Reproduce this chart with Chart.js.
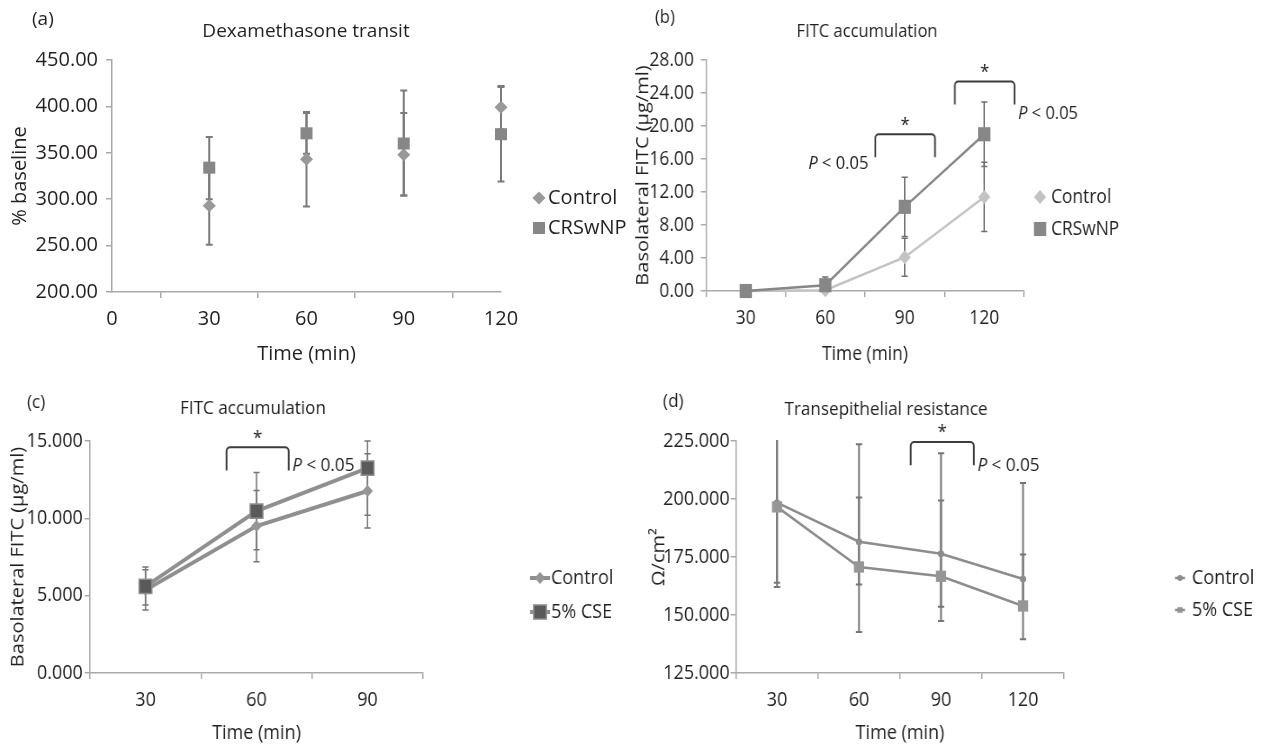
<!DOCTYPE html>
<html>
<head>
<meta charset="utf-8">
<script src="https://cdn.jsdelivr.net/npm/chart.js@4.4.0/dist/chart.umd.min.js"></script>
<style>
  html, body { margin: 0; padding: 0; background: #fff; }
  #page { position: relative; width: 1269px; height: 749px; overflow: hidden; }
  canvas { position: absolute; transform-origin: 0 0; }
</style>
</head>
<body>
<div id="page">
  <canvas id="panelA"></canvas>
  <canvas id="panelB"></canvas>
  <canvas id="panelC"></canvas>
  <canvas id="panelD"></canvas>
</div>
<script>
// (a) Dexamethasone transit
const timesA = [30, 60, 90, 120];
const ctrlA = [293, 343, 348, 399];
const ctrlLoA = [251, 292, 304, 375];
const ctrlHiA = [335, 394, 393, 422];
const crsA = [334, 371, 360, 370];
const crsLoA = [300, 349, 304, 319];
const crsHiA = [367, 393, 417, 421];
const ticksA = [200, 450, 50];

// (b) FITC accumulation, Control vs CRSwNP
const timesB = ["30", "60", "90", "120"];
const ctrlB = [0, 0.1, 4.1, 11.4];
const ctrlLoB = [0, 0, 1.8, 7.2];
const ctrlHiB = [0, 0.2, 6.4, 15.6];
const crsB = [0, 0.7, 10.2, 19.0];
const crsLoB = [0, -0.3, 6.6, 15.1];
const crsHiB = [0, 1.7, 13.8, 22.9];
const ticksB = [0, 28, 4];

// (c) FITC accumulation, Control vs 5% CSE
const timesC = ["30", "60", "90"];
const ctrlC = [5.37, 9.5, 11.77];
const ctrlLoC = [4.07, 7.2, 9.37];
const ctrlHiC = [6.67, 11.8, 14.17];
const cseC = [5.6, 10.47, 13.25];
const cseLoC = [4.4, 7.97, 10.2];
const cseHiC = [6.85, 12.97, 15.0];
const ticksC = [0, 15, 5];

// (d) Transepithelial resistance
const timesD = ["30", "60", "90", "120"];
const ctrlD = [198.4, 181.6, 176.4, 165.5];
const ctrlLoD = [162.1, 163.2, 153.6, 155.0];
const ctrlHiD = [234.7, 200.6, 199.4, 176.1];
const cseD = [196.6, 170.7, 166.7, 153.9];
const cseLoD = [163.9, 142.7, 147.4, 139.5];
const cseHiD = [229.3, 223.6, 219.7, 206.9];
const ticksD = [125, 225, 25];

const FONT = "'Open Sans', 'Noto Sans', sans-serif";
const INK = "#231f20";
const AXIS = "#a9a9a9";
const TICK_SIZE = 20;

function marker(ctx, style, x, y, r, fill, stroke) {
  ctx.beginPath();
  if (style === "rectRot") {
    ctx.moveTo(x, y - r); ctx.lineTo(x + r, y); ctx.lineTo(x, y + r); ctx.lineTo(x - r, y);
  } else if (style === "rect") {
    const s = r * Math.SQRT1_2;
    ctx.rect(x - s, y - s, 2 * s, 2 * s);
  } else {
    ctx.arc(x, y, r, 0, Math.PI * 2);
  }
  ctx.closePath();
  ctx.fillStyle = fill;
  ctx.fill();
  if (stroke) { ctx.strokeStyle = stroke; ctx.lineWidth = 1.5; ctx.stroke(); }
}

function drawP(ctx, x, y, alignRight) {
  ctx.font = `italic 19px ${FONT}`;
  const wP = ctx.measureText("P").width;
  ctx.font = `19px ${FONT}`;
  const rest = " < 0.05";
  const wR = ctx.measureText(rest).width;
  const x0 = alignRight ? x - wP - wR : x;
  ctx.textAlign = "left";
  ctx.font = `italic 19px ${FONT}`;
  ctx.fillText("P", x0, y);
  ctx.font = `19px ${FONT}`;
  ctx.fillText(rest, x0 + wP, y);
}

// error bars, panel letter, title, legend, significance brackets
const deco = {
  id: "deco",
  beforeDatasetsDraw(chart, args, o) {
    const { ctx, chartArea: a, scales: { y } } = chart;
    ctx.save();
    ctx.beginPath();
    ctx.rect(a.left - 10, a.top - 1, a.right - a.left + 20, a.bottom - a.top + 1);
    ctx.clip();
    ctx.strokeStyle = o.errColor;
    ctx.lineWidth = o.errWidth;
    chart.data.datasets.forEach((ds, i) => {
      chart.getDatasetMeta(i).data.forEach((pt, j) => {
        const lo = y.getPixelForValue(ds.errLo[j]);
        const hi = y.getPixelForValue(ds.errHi[j]);
        if (Math.abs(lo - hi) < 1) return;
        ctx.beginPath();
        ctx.moveTo(pt.x, lo); ctx.lineTo(pt.x, hi);
        ctx.moveTo(pt.x - o.cap, lo); ctx.lineTo(pt.x + o.cap, lo);
        ctx.moveTo(pt.x - o.cap, hi); ctx.lineTo(pt.x + o.cap, hi);
        ctx.stroke();
      });
    });
    ctx.restore();
  },
  afterDraw(chart, args, o) {
    const { ctx, scales: { x, y } } = chart;
    ctx.save();
    ctx.fillStyle = INK;
    ctx.textBaseline = "middle";
    ctx.font = `19px ${FONT}`;
    ctx.textAlign = "left";
    ctx.fillText(o.tag, o.tagX, o.tagY);
    ctx.textAlign = "center";
    ctx.fillText(o.title, o.titleX, o.titleY);

    // legend
    chart.data.datasets.forEach((ds, i) => {
      const ly = o.legY + i * o.legGap;
      if (o.legLine) {
        ctx.strokeStyle = ds.borderColor;
        ctx.lineWidth = ds.borderWidth;
        ctx.beginPath();
        ctx.moveTo(o.legX - o.legLine, ly); ctx.lineTo(o.legX + o.legLine, ly);
        ctx.stroke();
      }
      marker(ctx, ds.pointStyle, o.legX, ly, ds.legR || ds.pointRadius, ds.pointBackgroundColor, ds.legStroke);
      ctx.fillStyle = INK;
      ctx.textAlign = "left";
      ctx.font = `20px ${FONT}`;
      ctx.fillText(ds.label, o.legX + o.legText, ly);
    });

    // brackets
    (o.brackets || []).forEach(b => {
      const x1 = x.getPixelForValue(b.from), x2 = x.getPixelForValue(b.to);
      const yt = y.getPixelForValue(b.top), yf = y.getPixelForValue(b.foot);
      ctx.strokeStyle = "#3c3c3c";
      ctx.lineWidth = 2;
      ctx.beginPath();
      ctx.moveTo(x1, yf);
      ctx.arcTo(x1, yt, x2, yt, 4);
      ctx.arcTo(x2, yt, x2, yf, 4);
      ctx.lineTo(x2, yf);
      ctx.stroke();
      ctx.fillStyle = INK;
      ctx.textAlign = "center";
      ctx.font = `19px ${FONT}`;
      ctx.fillText("*", (x1 + x2) / 2, yt - 9);
      if (b.side === "left") drawP(ctx, x1 - 8, yf + b.dy, true);
      else drawP(ctx, x2 + 4, yf + b.dy, false);
    });
    ctx.restore();
  }
};

function yAxis(t, dec, title, titlePad, tickPad) {
  return {
    min: t[0], max: t[1],
    ticks: { stepSize: t[2], callback: v => v.toFixed(dec), font: { family: FONT, size: TICK_SIZE }, color: INK, padding: tickPad },
    grid: { drawOnChartArea: false, tickLength: 6, color: AXIS, lineWidth: 1.5 },
    border: { color: AXIS, width: 1.5 },
    title: { display: true, text: title, font: { family: FONT, size: 20 }, color: INK, padding: { top: titlePad, bottom: 0 } }
  };
}

function xAxis(extra) {
  return Object.assign({
    ticks: { font: { family: FONT, size: TICK_SIZE }, color: INK, padding: 9, maxRotation: 0 },
    grid: { drawOnChartArea: false, tickLength: 6, color: AXIS, lineWidth: 1.5, offset: true },
    border: { color: AXIS, width: 1.5 },
    title: { display: true, text: "Time (min)", font: { family: FONT, size: 20 }, color: INK, padding: { top: 0, bottom: 4 } }
  }, extra);
}

// box: canvas on page (sx squeezes the panel sideways), plot: wanted chart area on page
function makePanel(id, box, plot, config, o) {
  const c = document.getElementById(id);
  const sx = box.sx || 1;
  const W = Math.round(box.w / sx);
  const lx = px => (px - box.x) / sx;
  c.width = W; c.height = box.h;
  c.style.width = W + "px"; c.style.height = box.h + "px";
  c.style.left = box.x + "px"; c.style.top = box.y + "px";
  c.style.transform = `scaleX(${sx})`;
  const opts = Object.assign({}, o, {
    tagX: lx(o.tagX), tagY: o.tagY - box.y,
    titleX: lx(o.titleX), titleY: o.titleY - box.y,
    legX: lx(o.legX), legY: o.legY - box.y,
    legText: o.legText / sx, legLine: o.legLine / sx
  });
  const left = lx(plot.left), right = lx(plot.right);
  config.data.datasets.forEach(ds => { ds.clip = false; });
  config.options = Object.assign({
    responsive: false,
    animation: false,
    devicePixelRatio: 1,
    layout: { padding: { top: plot.top - box.y, right: W - right, left: 0, bottom: 0 } },
    plugins: { legend: { display: false }, tooltip: { enabled: false }, deco: opts }
  }, config.options);
  config.options.scales.y.afterFit = s => { s.width = left; };
  config.options.scales.x.afterFit = s => { s.height = box.y + box.h - plot.bottom; };
  config.plugins = [deco];
  return new Chart(c, config);
}

// (a)
makePanel("panelA", { x: 0, y: 0, w: 630, h: 370 }, { left: 112, right: 501, top: 60, bottom: 292 }, {
  type: "line",
  data: {
    datasets: [
      { label: "Control", data: timesA.map((t, i) => ({ x: t, y: ctrlA[i] })), errLo: ctrlLoA, errHi: ctrlHiA,
        showLine: false, pointStyle: "rectRot", pointRadius: 6.5, pointBackgroundColor: "#999999", pointBorderWidth: 0,
        borderColor: "#999999", order: 1 },
      { label: "CRSwNP", data: timesA.map((t, i) => ({ x: t, y: crsA[i] })), errLo: crsLoA, errHi: crsHiA,
        showLine: false, pointStyle: "rect", pointRadius: 8.5, pointBackgroundColor: "#878787", pointBorderWidth: 0,
        borderColor: "#878787", order: 0 }
    ]
  },
  options: {
    scales: {
      x: xAxis({ type: "linear", min: 0, max: 120,
        ticks: { stepSize: 30, font: { family: FONT, size: TICK_SIZE }, color: INK, padding: 9 } }),
      y: yAxis(ticksA, 2, "% baseline", 8, 8)
    }
  }
}, { tag: "(a)", tagX: 32, tagY: 20, title: "Dexamethasone transit", titleX: 306, titleY: 32,
     legX: 539, legY: 198, legGap: 30, legText: 9, legLine: 0, errColor: "#7b7b7b", errWidth: 2, cap: 3.5 });

// (b)
makePanel("panelB", { x: 630, y: 0, w: 639, h: 370, sx: 0.87 }, { left: 706, right: 1024, top: 60, bottom: 291 }, {
  type: "line",
  data: {
    labels: timesB,
    datasets: [
      { label: "Control", data: ctrlB, errLo: ctrlLoB, errHi: ctrlHiB,
        borderColor: "#c3c3c3", borderWidth: 2.5, pointStyle: "rectRot", pointRadius: 7,
        pointBackgroundColor: "#c3c3c3", pointBorderWidth: 0, order: 1 },
      { label: "CRSwNP", data: crsB, errLo: crsLoB, errHi: crsHiB,
        borderColor: "#878787", borderWidth: 2.5, pointStyle: "rect", pointRadius: 10,
        pointBackgroundColor: "#878787", pointBorderWidth: 0, order: 0 }
    ]
  },
  options: {
    scales: {
      x: xAxis({ type: "category", offset: true }),
      y: yAxis(ticksB, 2, "Basolateral FITC (µg/ml)", 3, 8)
    }
  }
}, { tag: "(b)", tagX: 655, tagY: 18, title: "FITC accumulation", titleX: 867, titleY: 32,
     legX: 1040, legY: 197, legGap: 32, legText: 11, legLine: 0, errColor: "#6e6e6e", errWidth: 1.5, cap: 3.5,
     brackets: [
       { from: 1.63, to: 2.38, top: 19.0, foot: 16.2, side: "left", dy: 6 },
       { from: 2.63, to: 3.38, top: 25.4, foot: 22.6, side: "right", dy: 9 }
     ] });

// (c)
makePanel("panelC", { x: 0, y: 370, w: 640, h: 379, sx: 0.9 }, { left: 90, right: 423, top: 441, bottom: 673 }, {
  type: "line",
  data: {
    labels: timesC,
    datasets: [
      { label: "Control", data: ctrlC, errLo: ctrlLoC, errHi: ctrlHiC,
        borderColor: "#8f8f8f", borderWidth: 4, pointStyle: "rectRot", pointRadius: 6,
        pointBackgroundColor: "#959595", pointBorderWidth: 0, order: 1 },
      { label: "5% CSE", data: cseC, errLo: cseLoC, errHi: cseHiC,
        borderColor: "#8f8f8f", borderWidth: 4, pointStyle: "rect", pointRadius: 10,
        pointBackgroundColor: "#5a5a5a", pointBorderColor: "#8f8f8f", pointBorderWidth: 1.5,
        legStroke: "#8f8f8f", order: 0 }
    ]
  },
  options: {
    scales: {
      x: xAxis({ type: "category", offset: true }),
      y: yAxis(ticksC, 3, "Basolateral FITC (µg/ml)", 8, 2)
    }
  }
}, { tag: "(c)", tagX: 27, tagY: 403, title: "FITC accumulation", titleX: 253, titleY: 409,
     legX: 540, legY: 578, legGap: 34, legText: 11, legLine: 10, errColor: "#767676", errWidth: 1.5, cap: 3.5,
     brackets: [ { from: 0.73, to: 1.29, top: 14.6, foot: 13.1, side: "right", dy: -5 } ] });

// (d)
makePanel("panelD", { x: 640, y: 370, w: 629, h: 379, sx: 0.9 }, { left: 736, right: 1064, top: 441, bottom: 673 }, {
  type: "line",
  data: {
    labels: timesD,
    datasets: [
      { label: "Control", data: ctrlD, errLo: ctrlLoD, errHi: ctrlHiD,
        borderColor: "#8c8c8c", borderWidth: 2.5, pointStyle: "circle", pointRadius: 3.5,
        pointBackgroundColor: "#8c8c8c", pointBorderWidth: 0, legR: 3, order: 1 },
      { label: "5% CSE", data: cseD, errLo: cseLoD, errHi: cseHiD,
        borderColor: "#8c8c8c", borderWidth: 2.5, pointStyle: "rect", pointRadius: 8,
        pointBackgroundColor: "#969696", pointBorderWidth: 0, legR: 4, order: 0 }
    ]
  },
  options: {
    scales: {
      x: xAxis({ type: "category", offset: true }),
      y: yAxis(ticksD, 3, "Ω/cm²", 9, 1)
    }
  }
}, { tag: "(d)", tagX: 663, tagY: 402, title: "Transepithelial resistance", titleX: 886, titleY: 410,
     legX: 1180, legY: 578, legGap: 32, legText: 12, legLine: 5, errColor: "#767676", errWidth: 2, cap: 3.5,
     brackets: [ { from: 1.63, to: 2.40, top: 224.6, foot: 214.6, side: "right", dy: 0 } ] });
</script>
</body>
</html>
